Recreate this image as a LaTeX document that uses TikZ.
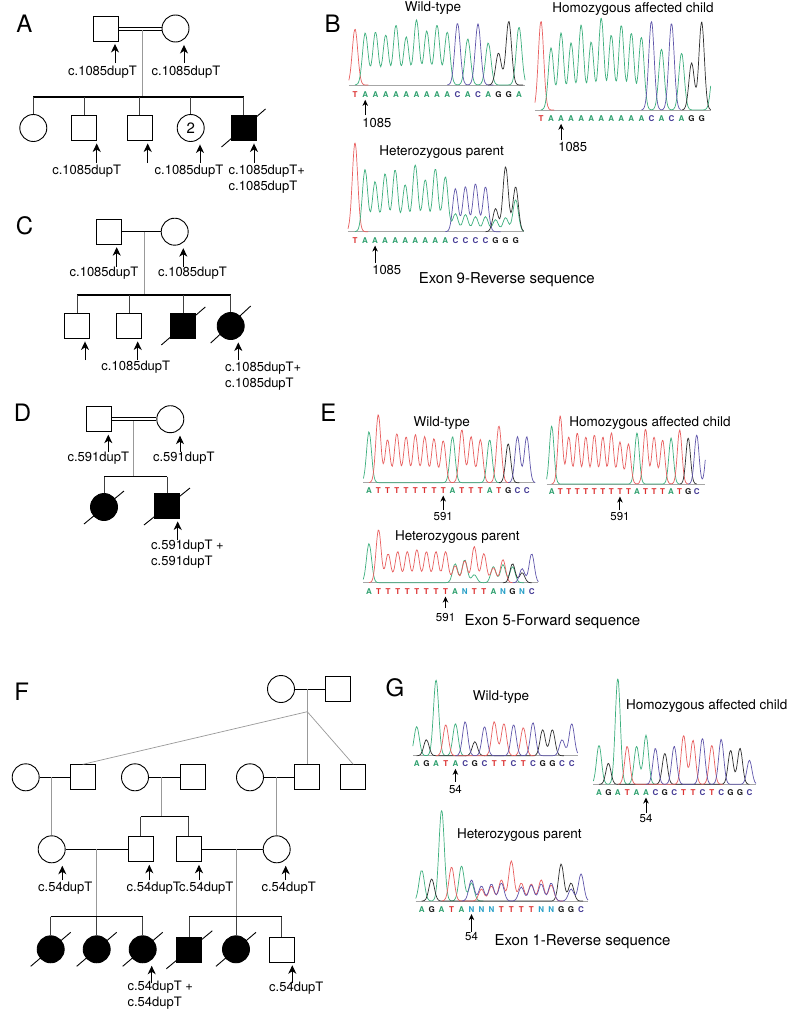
\documentclass[tikz,border=0pt]{standalone}
\usepackage{fontspec}
\setmainfont{TeX Gyre Heros}
\usetikzlibrary{arrows.meta}
\definecolor{colA}{RGB}{46,160,110}
\definecolor{colC}{RGB}{70,60,150}
\definecolor{colG}{RGB}{25,25,25}
\definecolor{colT}{RGB}{220,50,50}
\definecolor{colN}{RGB}{40,160,200}
\definecolor{trA}{RGB}{60,175,125}
\definecolor{trC}{RGB}{95,85,170}
\definecolor{trG}{RGB}{45,45,45}
\definecolor{trT}{RGB}{232,95,95}
\tikzset{
  male/.style={draw, line width=0.9pt, minimum size=25pt, inner sep=0pt, fill=white},
  female/.style={draw, circle, line width=0.9pt, minimum size=27pt, inner sep=0pt, fill=white},
  aff/.style={fill=black},
  mline/.style={line width=1pt},
  dbl/.style={line width=0.8pt},
  dline/.style={black!40, line width=0.7pt},
  sib/.style={line width=1.2pt},
  drop/.style={black!75, line width=0.8pt},
  slash/.style={line width=0.9pt},
  garrow/.style={-{Stealth[length=8.5pt,width=8pt,inset=2.5pt]}, line width=1pt, shorten >=2.5pt},
  carrow/.style={-{Stealth[length=6pt,width=5.5pt,inset=1.8pt]}, line width=0.9pt, shorten >=1.2pt},
  mut/.style={font=\fontsize{13}{16}\selectfont, inner sep=0pt},
  plabel/.style={font=\fontsize{24}{28}\selectfont, inner sep=0pt},
  ttl/.style={font=\fontsize{13.5}{16}\selectfont, inner sep=0pt},
  captxt/.style={font=\fontsize{15}{18}\selectfont, inner sep=0pt},
  numb/.style={font=\fontsize{13}{15}\selectfont, inner sep=0pt},
  nums/.style={font=\fontsize{11.5}{13}\selectfont, inner sep=0pt},
  basech/.style={font=\fontsize{8}{8}\selectfont\bfseries, inner sep=0.5pt},
  bline/.style={black!35, line width=0.6pt},
  trace/.style={line width=0.7pt}
}
\newcommand\bases[3]{\foreach \l [count=\i from 0] in {#3} {\node[basech, text=col\l] (#1\i) at (\i,-#2) {\l};}}
\newcommand\trc[5]{\draw[trace, #1, domain=#2:#3, samples=#4, smooth] plot (\x,{#5});}
\newcommand\mutarr[3]{\coordinate (#2a) at (#1,#3); \draw[garrow] (#2a) -- (#2a |- #2.south);}
\begin{document}
\begin{tikzpicture}[x=1pt,y=-1pt,
  declare function={pq(\ta)=min(abs(\ta)/0.38,3); pk(\ta,\tb,\tc)=\tc*exp(-pq(\ta-\tb)*pq(\ta-\tb));}]
\useasboundingbox (0,0) rectangle (800,1017);
\fill[white] (0,0) rectangle (800,1017);

% ================= Panel A =================
\node[plabel] (LA) at (24.5,24) {A};
\node[male] (A1) at (105.5,28.5) {};
\node[female] (A2) at (175.5,28.5) {};
\draw[dbl] ([yshift=1.5pt]A1.east) -- ([yshift=1.5pt]A2.west);
\draw[dbl] ([yshift=-1.5pt]A1.east) -- ([yshift=-1.5pt]A2.west);
\coordinate (A12) at (142.7,30);
\coordinate (Asib) at (142.7,97);
\draw[dline] (A12) -- (Asib);
\node[female] (A3) at (33.3,128) {};
\node[male] (A4) at (84,128) {};
\node[male] (A5) at (139.5,128) {};
\node[female, font=\fontsize{15}{15}\selectfont] (A6) at (190.7,128) {2};
\node[male, aff] (A7) at (243.5,128) {};
\draw[sib] (A3 |- Asib) -- (A7 |- Asib);
\foreach \n in {A3,A4,A5,A6,A7} \draw[drop] (\n |- Asib) -- (\n.north);
\draw[slash] ([shift={(-22,19)}]A7.center) -- ([shift={(22,-19)}]A7.center);
\mutarr{115}{A1}{63}
\mutarr{184}{A2}{63}
\node[mut] (mA1) at (102.5,72) {c.1085dupT};
\node[mut] (mA2) at (186,72) {c.1085dupT};
\mutarr{96.7}{A4}{163}
\mutarr{147.7}{A5}{163}
\mutarr{200}{A6}{163}
\mutarr{254}{A7}{163}
\node[mut] (mA4) at (86.7,170.7) {c.1085dupT};
\node[mut] (mA6) at (189,170.7) {c.1085dupT};
\node[mut, align=left, anchor=west] (mA7) at (228.5,178.7) {c.1085dupT+\\c.1085dupT};

% ================= Panel C =================
\node[plabel] (LC) at (24.5,226) {C};
\node[male] (C1) at (108.8,231.7) {};
\node[female] (C2) at (174.7,231.7) {};
\draw[mline] (C1.east) -- (C2.west);
\coordinate (C12) at (144,231.7);
\coordinate (Csib) at (144,295);
\draw[dline] (C12) -- (Csib);
\node[male] (C3) at (77.3,326) {};
\node[male] (C4) at (129.3,326) {};
\node[male, aff] (C5) at (183.3,326) {};
\node[female, aff] (C6) at (230.7,326) {};
\draw[sib] (C3 |- Csib) -- (C6 |- Csib);
\foreach \n in {C3,C4,C5,C6} \draw[drop] (\n |- Csib) -- (\n.north);
\draw[slash] ([shift={(-22,19)}]C5.center) -- ([shift={(22,-19)}]C5.center);
\draw[slash] ([shift={(-20,17)}]C6.center) -- ([shift={(20,-20)}]C6.center);
\mutarr{116.7}{C1}{266.7}
\mutarr{183.3}{C2}{266.7}
\node[mut] (mC1) at (104,272.7) {c.1085dupT};
\node[mut] (mC2) at (192.5,272.7) {c.1085dupT};
\mutarr{85}{C3}{360}
\mutarr{137.7}{C4}{360}
\mutarr{238.3}{C6}{360}
\node[mut] (mC4) at (135.8,366.7) {c.1085dupT};
\node[mut, align=left, anchor=west] (mC6) at (224.8,376.2) {c.1085dupT+\\c.1085dupT};

% ================= Panel D =================
\node[plabel] (LD) at (22.5,412.5) {D};
\node[male] (D1) at (99.2,419.2) {};
\node[female] (D2) at (170.3,419.2) {};
\draw[dbl] ([yshift=1.5pt]D1.east) -- ([yshift=1.5pt]D2.west);
\draw[dbl] ([yshift=-1.5pt]D1.east) -- ([yshift=-1.5pt]D2.west);
\coordinate (D12) at (133.3,421);
\coordinate (Dsib) at (133.3,476.7);
\draw[dline] (D12) -- (Dsib);
\node[female, aff] (D3) at (104,507) {};
\node[male, aff] (D4) at (167,506) {};
\draw[sib] (D3 |- Dsib) -- (D4 |- Dsib);
\foreach \n in {D3,D4} \draw[drop] (\n |- Dsib) -- (\n.north);
\draw[slash] ([shift={(-20,17)}]D3.center) -- ([shift={(20,-16)}]D3.center);
\draw[slash] ([shift={(-23,19)}]D4.center) -- ([shift={(23,-18)}]D4.center);
\mutarr{108.3}{D1}{451.7}
\mutarr{180}{D2}{451.7}
\node[mut] (mD1) at (98.3,458.3) {c.591dupT};
\node[mut] (mD2) at (183.8,458.3) {c.591dupT};
\mutarr{177.7}{D4}{540}
\node[mut, align=left, anchor=west] (mD4) at (151,554.2) {c.591dupT +\\c.591dupT};

% ================= Panel F =================
\node[plabel] (LF) at (21.7,691.7) {F};
\node[female] (F1) at (281,689) {};
\node[male] (F2) at (338.3,689) {};
\draw[mline] (F1.east) -- (F2.west);
\coordinate (F12) at (307.3,689);
\coordinate (F12d) at (307.3,711.7);
\draw[dline] (F12) -- (F12d);
\node[female] (F3) at (25.7,777.3) {};
\node[male] (F4) at (82.7,777.3) {};
\node[female] (F5) at (135,777.3) {};
\node[male] (F6) at (192.7,777.3) {};
\node[female] (F7) at (250,777.3) {};
\node[male] (F8) at (307.3,777.3) {};
\node[male] (F9) at (353.3,777.3) {};
\draw[dline] (F12d) -- (F4.north);
\draw[dline] (F12d) -- (F8.north);
\draw[dline] (F12d) -- (F9.north);
\draw[mline] (F3.east) -- (F4.west);
\draw[mline] (F5.east) -- (F6.west);
\draw[mline] (F7.east) -- (F8.west);
\node[female] (F12c) at (51.7,849.3) {};
\node[male] (F13) at (140.8,849.3) {};
\node[male] (F14) at (188.7,849.3) {};
\node[female] (F15) at (276.7,849.3) {};
\coordinate (F34) at (51.7,777.3);
\draw[dline] (F34) -- (F12c.north);
\coordinate (F56) at (161.7,777.3);
\coordinate (F56s) at (161.7,816.7);
\draw[dline] (F56) -- (F56s);
\draw[mline] (F13 |- F56s) -- (F14 |- F56s);
\draw[drop] (F13 |- F56s) -- (F13.north);
\draw[drop] (F14 |- F56s) -- (F14.north);
\coordinate (F78) at (276.7,777.3);
\draw[dline] (F78) -- (F15.north);
\draw[mline] (F12c.east) -- (F13.west);
\draw[mline] (F14.east) -- (F15.west);
\coordinate (Fa) at (96.7,849.3);
\coordinate (Fas) at (96.7,916.7);
\coordinate (Fb) at (236,849.3);
\coordinate (Fbs) at (236,916.7);
\draw[dline] (Fa) -- (Fas);
\draw[dline] (Fb) -- (Fbs);
\node[female, aff] (F16) at (50.7,949.3) {};
\node[female, aff] (F17) at (96.7,949.3) {};
\node[female, aff] (F18) at (142.7,949.3) {};
\node[male, aff] (F19) at (189.3,949.8) {};
\node[female, aff] (F20) at (236,949.3) {};
\node[male] (F21) at (281.7,949.8) {};
\draw[sib] (F16 |- Fas) -- (F18 |- Fas);
\draw[sib] (F19 |- Fbs) -- (F21 |- Fbs);
\foreach \n in {F16,F17,F18} \draw[drop] (\n |- Fas) -- (\n.north);
\foreach \n in {F19,F20,F21} \draw[drop] (\n |- Fbs) -- (\n.north);
\foreach \n in {F16,F17,F18,F20} \draw[slash] ([shift={(-20,17)}]\n.center) -- ([shift={(20,-17)}]\n.center);
\draw[slash] ([shift={(-23,19)}]F19.center) -- ([shift={(23,-19)}]F19.center);
\mutarr{62.3}{F12c}{880}
\mutarr{149.3}{F13}{880}
\mutarr{199}{F14}{880}
\mutarr{285.7}{F15}{880}
\node[mut] (mF12) at (65.3,887.7) {c.54dupT};
\node[mut] (mF13) at (153.8,887.7) {c.54dupT};
\node[mut] (mF14) at (206.3,887.7) {c.54dupT};
\node[mut] (mF15) at (288.7,887.7) {c.54dupT};
\mutarr{151.7}{F18}{983.3}
\mutarr{292.3}{F21}{983.3}
\node[mut, align=left, anchor=west] (mF18) at (127.4,995.5) {c.54dupT +\\c.54dupT};
\node[mut] (mF21) at (296.3,988.3) {c.54dupT};

% ================= Panel B =================
\node[plabel] (LB) at (332.5,24) {B};
\node[ttl] (tB1) at (433,8) {Wild-type};
\node[ttl] (tB2) at (633,9) {Homozygous affected child};
\node[ttl] (tB3) at (441.7,151.7) {Heterozygous parent};
\node[captxt] (cB) at (506.7,279.3) {Exon 9-Reverse sequence};
\begin{scope}[shift={(355,85)},xscale=10.25,yscale=-1]
\draw[bline] (-0.6,0) -- (16.6,0);
\trc{trT}{-0.6}{1.3}{16}{pk(\x,0,56)}
\trc{trA}{0}{16.6}{120}{pk(\x,1,52)+pk(\x,2,53)+pk(\x,3,50)+pk(\x,4,60)+pk(\x,5,48)+pk(\x,6,65)+pk(\x,7,54)+pk(\x,8,60)+pk(\x,9,53)+pk(\x,11,46)+pk(\x,13,42)+pk(\x,16,58)}
\trc{trC}{9}{13.5}{34}{pk(\x,10,62)+pk(\x,12,61)}
\trc{trG}{13}{16.4}{26}{pk(\x,14,32)+pk(\x,15,64)}
\bases{bw}{10}{T,A,A,A,A,A,A,A,A,A,C,A,C,A,G,G,A}
\coordinate (bwa) at (1,-30);
\draw[carrow] (bwa) -- (bw1.south);
\node[numb, anchor=west] (bwn) at (0.7,-38) {1085};
\end{scope}
\begin{scope}[shift={(541,110)},xscale=10.04,yscale=-1]
\draw[bline] (-0.6,0) -- (16.9,0);
\trc{trT}{-0.6}{1.3}{16}{pk(\x,0,89)}
\trc{trA}{0}{16.9}{120}{pk(\x,1,62)+pk(\x,2,77)+pk(\x,3,67)+pk(\x,4,85)+pk(\x,5,68)+pk(\x,6,92)+pk(\x,7,75)+pk(\x,8,85)+pk(\x,9,77)+pk(\x,10,73)+pk(\x,12,61)+pk(\x,14,57)+pk(\x,17.2,45)}
\trc{trC}{10}{13.9}{30}{pk(\x,11,89)+pk(\x,13,87)}
\trc{trG}{14}{16.9}{24}{pk(\x,15,47)+pk(\x,16,88)}
\bases{bh}{9}{T,A,A,A,A,A,A,A,A,A,A,C,A,C,A,G,G}
\coordinate (bha) at (2,-30);
\draw[carrow] (bha) -- (bh2.south);
\node[numb, anchor=west] (bhn) at (1.7,-37) {1085};
\end{scope}
\begin{scope}[shift={(355,231.7)},xscale=10.04,yscale=-1]
\draw[bline] (-0.7,0) -- (16.8,0);
\trc{trT}{-0.7}{1.3}{16}{pk(\x,0,89)}
\trc{trA}{0}{16.8}{120}{pk(\x,1,62)+pk(\x,2,50)+pk(\x,3,58)+pk(\x,4,62)+pk(\x,5,47)+pk(\x,6,67)+pk(\x,7,52)+pk(\x,8,63)+pk(\x,9,55)+pk(\x,10,18)+pk(\x,11,17)+pk(\x,12,15)+pk(\x,13,15)+pk(\x,14,12)+pk(\x,15,14)+pk(\x,16,32)}
\trc{trC}{9}{14.5}{40}{pk(\x,10,43)+pk(\x,11,45)+pk(\x,12,48)+pk(\x,13,45)}
\trc{trG}{13}{16.8}{28}{pk(\x,14,23)+pk(\x,15,65)+pk(\x,16,45)}
\bases{bt}{9}{T,A,A,A,A,A,A,A,A,A,C,C,C,C,G,G,G}
\coordinate (bta) at (2,-31.3);
\draw[carrow] (bta) -- (bt2.south);
\node[numb, anchor=west] (btn) at (1.7,-38.3) {1085};
\end{scope}

% ================= Panel E =================
\node[plabel] (LE) at (328.3,412.5) {E};
\node[ttl] (tE1) at (441.7,422.7) {Wild-type};
\node[ttl] (tE2) at (650,423.3) {Homozygous affected child};
\node[ttl] (tE3) at (457.3,537.3) {Heterozygous parent};
\node[captxt] (cE) at (552.5,621.7) {Exon 5-Forward sequence};
\begin{scope}[shift={(369,482.7)},xscale=9.28,yscale=-1]
\draw[bline] (-0.6,0) -- (17.9,0);
\trc{trA}{-0.6}{14.2}{104}{pk(\x,0,51)+pk(\x,9,46)+pk(\x,13,43)}
\trc{trT}{0}{15.2}{110}{pk(\x,1,68)+pk(\x,2,43)+pk(\x,3,49)+pk(\x,4,46)+pk(\x,5,48)+pk(\x,6,46)+pk(\x,7,44)+pk(\x,8,42)+pk(\x,10,53)+pk(\x,11,46)+pk(\x,12,43)+pk(\x,14,57)}
\trc{trG}{14}{16.2}{18}{pk(\x,15,39)}
\trc{trC}{15}{17.9}{24}{pk(\x,16,46)+pk(\x,17,46)}
\bases{ew}{8}{A,T,T,T,T,T,T,T,T,A,T,T,T,A,T,G,C,C}
\coordinate (ewa) at (8,-27.3);
\draw[carrow] (ewa) -- (ew8.south);
\node[nums] (ewn) at (8,-34) {591};
\end{scope}
\begin{scope}[shift={(551.7,484)},xscale=8.53,yscale=-1]
\draw[bline] (-0.6,0) -- (18,0);
\trc{trA}{-0.6}{15}{110}{pk(\x,0,58)+pk(\x,10,51)+pk(\x,14,46)}
\trc{trT}{0}{16}{115}{pk(\x,1,68)+pk(\x,2,47)+pk(\x,3,51)+pk(\x,4,47)+pk(\x,5,49)+pk(\x,6,47)+pk(\x,7,51)+pk(\x,8,42)+pk(\x,9,40)+pk(\x,11,55)+pk(\x,12,47)+pk(\x,13,44)+pk(\x,15,54)}
\trc{trG}{15}{17}{18}{pk(\x,16,46)}
\trc{trC}{16}{18}{18}{pk(\x,17,49)+pk(\x,18.3,45)}
\bases{eh}{7.7}{A,T,T,T,T,T,T,T,T,T,A,T,T,T,A,T,G,C}
\coordinate (eha) at (8,-26);
\draw[carrow] (eha) -- (eh8.south);
\node[nums] (ehn) at (8,-32.7) {591};
\end{scope}
\begin{scope}[shift={(369,582.7)},xscale=9.57,yscale=-1]
\draw[bline] (-0.6,0) -- (17.7,0);
\trc{trA}{-0.6}{16.2}{116}{pk(\x,0,39)+pk(\x,9,19)+pk(\x,10,23)+pk(\x,11,8)+pk(\x,13,16)+pk(\x,14,18)+pk(\x,15,16)}
\trc{trT}{0}{15}{110}{pk(\x,1,53)+pk(\x,2,29)+pk(\x,3,31)+pk(\x,4,31)+pk(\x,5,33)+pk(\x,6,31)+pk(\x,7,31)+pk(\x,8,31)+pk(\x,9,17)+pk(\x,10,22)+pk(\x,11,36)+pk(\x,12,29)+pk(\x,13,15)+pk(\x,14,23)}
\trc{trG}{14}{17}{24}{pk(\x,15,19)+pk(\x,16,10)}
\trc{trC}{15}{17.7}{22}{pk(\x,16,14)+pk(\x,17,29)}
\bases{et}{9}{A,T,T,T,T,T,T,T,T,A,N,T,T,A,N,G,N,C}
\coordinate (eta) at (8,-25.3);
\draw[carrow] (eta) -- (et8.south);
\node[nums] (etn) at (8,-34.6) {591};
\end{scope}

% ================= Panel G =================
\node[plabel] (LG) at (395,688) {G};
\node[ttl] (tG1) at (501,697.3) {Wild-type};
\node[ttl] (tG2) at (706.7,706) {Homozygous affected child};
\node[ttl] (tG3) at (519.3,835) {Heterozygous parent};
\node[captxt] (cG) at (582.5,941.7) {Exon 1-Reverse sequence};
\begin{scope}[shift={(416.7,755.7)},xscale=9.69,yscale=-1]
\draw[bline] (-0.4,0) -- (16.6,0);
\trc{trA}{-0.4}{5.2}{44}{pk(\x,0,29)+pk(\x,2,76)+pk(\x,4,32)}
\trc{trG}{0}{15.2}{110}{pk(\x,1,16)+pk(\x,6,14)+pk(\x,13,26)+pk(\x,14,26)}
\trc{trT}{2}{12.2}{76}{pk(\x,3,31)+pk(\x,8,34)+pk(\x,9,32)+pk(\x,11,28)}
\trc{trC}{4}{16.6}{92}{pk(\x,5,34)+pk(\x,7,29)+pk(\x,10,31)+pk(\x,12,33)+pk(\x,15,16)+pk(\x,16,32)}
\bases{gw}{8.3}{A,G,A,T,A,C,G,C,T,T,C,T,C,G,G,C,C}
\coordinate (gwa) at (4,-26);
\draw[carrow] (gwa) -- (gw4.south);
\node[nums] (gwn) at (4,-33.6) {54};
\end{scope}
\begin{scope}[shift={(599,784.3)},xscale=9.4,yscale=-1]
\draw[bline] (-0.6,0) -- (16.7,0);
\trc{trA}{-0.6}{6.2}{52}{pk(\x,0,39)+pk(\x,2,106)+pk(\x,4,38)+pk(\x,5,49)}
\trc{trG}{0}{16}{116}{pk(\x,1,21)+pk(\x,7,31)+pk(\x,14,34)+pk(\x,15,36)}
\trc{trT}{2}{13.2}{82}{pk(\x,3,38)+pk(\x,9,49)+pk(\x,10,44)+pk(\x,12,39)}
\trc{trC}{5}{16.7}{86}{pk(\x,6,36)+pk(\x,8,38)+pk(\x,11,46)+pk(\x,13,45)+pk(\x,16,24)}
\bases{gh}{8.4}{A,G,A,T,A,A,C,G,C,T,T,C,T,C,G,G,C}
\coordinate (gha) at (5,-29);
\draw[carrow] (gha) -- (gh5.south);
\node[nums] (ghn) at (5,-34) {54};
\end{scope}
\begin{scope}[shift={(421.7,901)},xscale=9.96,yscale=-1]
\draw[bline] (-0.6,0) -- (16.7,0);
\trc{trA}{-0.6}{6.2}{52}{pk(\x,0,31)+pk(\x,2,91)+pk(\x,4,35)+pk(\x,5,18)}
\trc{trG}{0}{16.2}{118}{pk(\x,1,22)+pk(\x,14,37)+pk(\x,15,18)}
\trc{trT}{2}{14.2}{90}{pk(\x,3,34)+pk(\x,6,12)+pk(\x,7,15)+pk(\x,8,21)+pk(\x,9,40)+pk(\x,10,18)+pk(\x,11,17)+pk(\x,12,21)+pk(\x,13,16)}
\trc{trC}{4}{16.7}{92}{pk(\x,5,21)+pk(\x,6,15)+pk(\x,7,17)+pk(\x,8,18)+pk(\x,10,14)+pk(\x,11,16)+pk(\x,12,17)+pk(\x,13,18)+pk(\x,15,12)+pk(\x,16,27)}
\bases{gt}{8.3}{A,G,A,T,A,N,N,N,T,T,T,T,N,N,G,G,C}
\coordinate (gta) at (5,-30.7);
\draw[carrow] (gta) -- (gt5.south);
\node[nums] (gtn) at (5,-35) {54};
\end{scope}
\end{tikzpicture}
\end{document}
